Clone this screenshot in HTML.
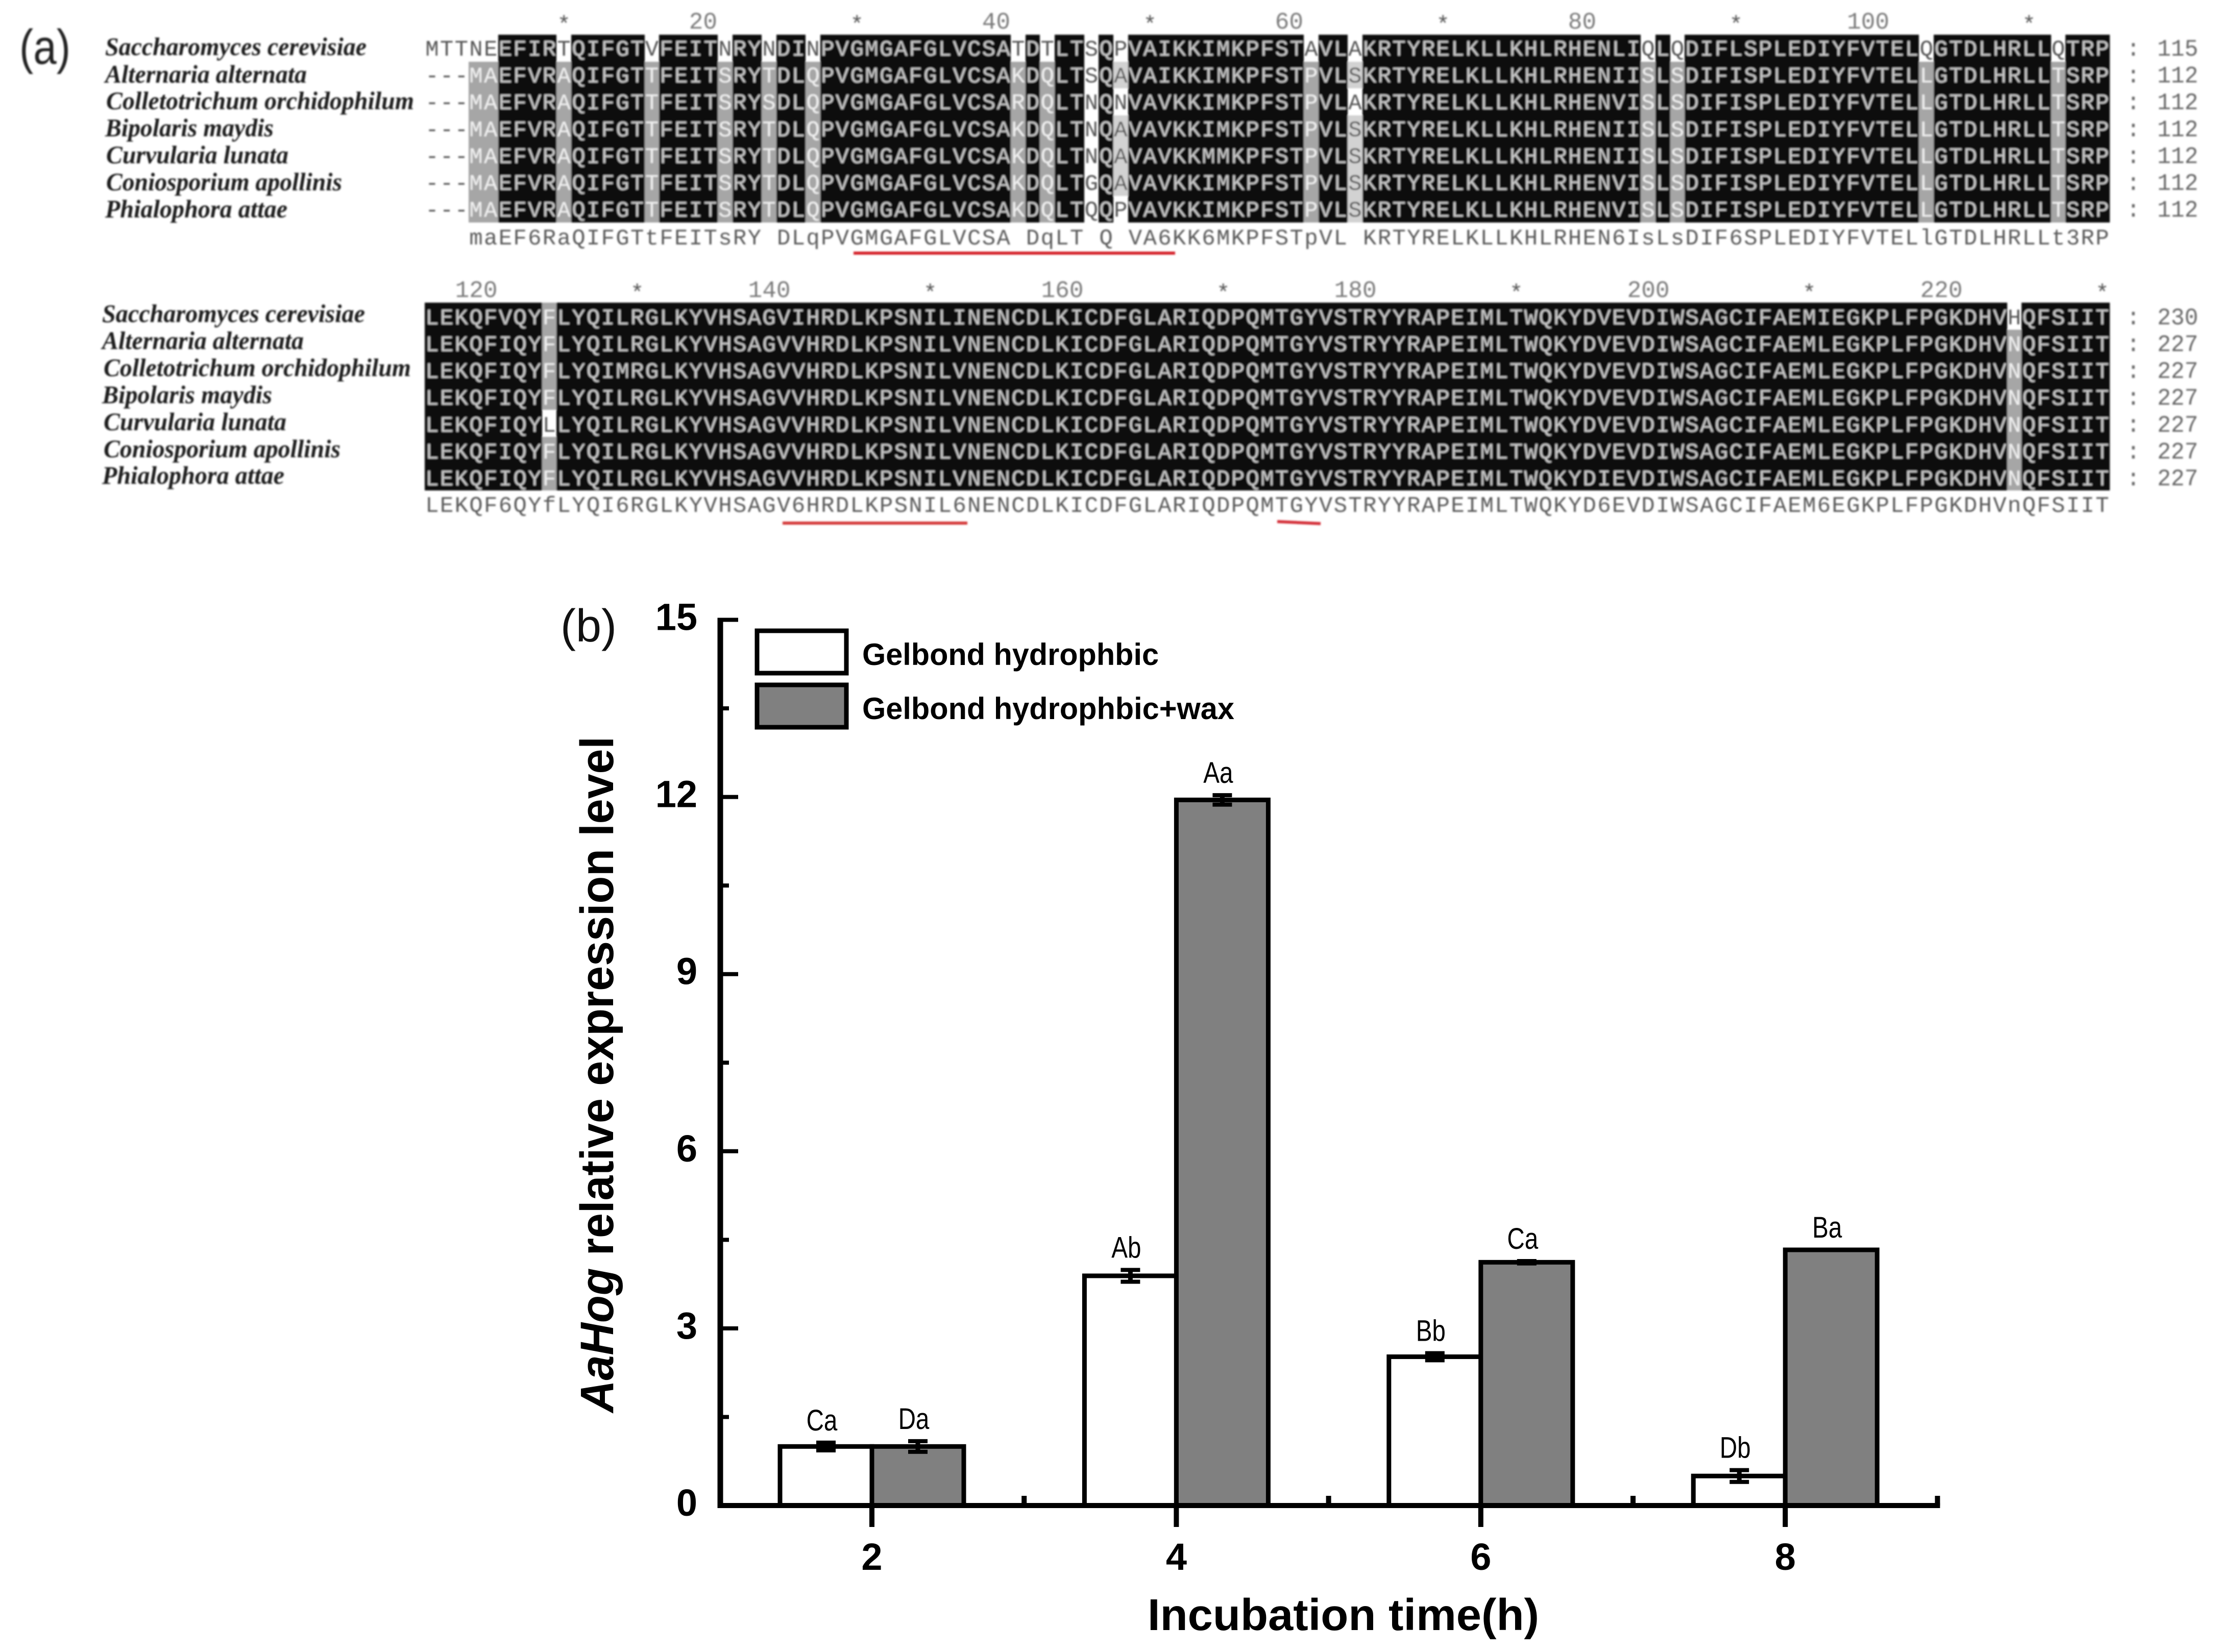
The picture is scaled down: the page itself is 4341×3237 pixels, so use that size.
<!DOCTYPE html>
<html lang="en">
<head>
<meta charset="utf-8">
<title>AaHog alignment and expression figure</title>
<style>
html,body{margin:0;padding:0;background:#fff}
body{width:4341px;height:3237px;overflow:hidden}
svg{display:block}
.sans{font-family:"Liberation Sans",sans-serif}
.mono{font-family:"Liberation Mono",monospace}
.serif{font-family:"Liberation Serif",serif}
</style>
</head>
<body>
<svg id="fig" xmlns="http://www.w3.org/2000/svg" width="4341" height="3237" viewBox="0 0 4341 3237">
  <defs>
    <filter id="soft" x="-2%" y="-2%" width="104%" height="104%"><feGaussianBlur stdDeviation="1.5"/></filter>
  </defs>
  <rect width="4341" height="3237" fill="#fff"/>
  <g id="panelA" filter="url(#soft)">
    <text class="sans" x="38" y="125" font-size="96" textLength="100" lengthAdjust="spacingAndGlyphs" fill="#222">(a)</text>
    <rect x="1672" y="493" width="630" height="6" fill="#d4202c"/>
    <rect x="1533" y="1022" width="362" height="6" fill="#d43a3a"/>
    <line x1="2502" y1="1022" x2="2587" y2="1026" stroke="#d4303a" stroke-width="6"/>
  </g>
  <g id="panelB">
    <text class="sans" x="1098" y="1257" font-size="90" textLength="110" lengthAdjust="spacingAndGlyphs" fill="#111">(b)</text>
    <g>
      <rect x="1483" y="1236" width="175" height="83" fill="#fff" stroke="#000" stroke-width="9"/>
      <text class="sans" x="1689" y="1303" font-size="60" font-weight="700" textLength="581" lengthAdjust="spacingAndGlyphs" fill="#000">Gelbond hydrophbic</text>
      <rect x="1483" y="1342" width="175" height="83" fill="#808080" stroke="#000" stroke-width="9"/>
      <text class="sans" x="1689" y="1409" font-size="60" font-weight="700" textLength="729" lengthAdjust="spacingAndGlyphs" fill="#000">Gelbond hydrophbic+wax</text>
    </g>
    <text class="sans" transform="translate(1201 2768) rotate(-90)" font-size="92" font-weight="700" textLength="1325" lengthAdjust="spacingAndGlyphs" fill="#000"><tspan font-style="italic">AaHog</tspan> relative expression level</text>
    <text class="sans" x="2248" y="3194" font-size="87" font-weight="700" textLength="767" lengthAdjust="spacingAndGlyphs" fill="#000">Incubation time(h)</text>
  </g>
</svg>
<script>
/* ---------- bar chart data ---------- */
const timeCategories = ['2', '4', '6', '8'];
const hydrophobicValues = [1.0, 3.89, 2.52, 0.5];
const waxValues = [1.0, 11.95, 4.12, 4.33];
const hydrophobicErrors = [0.065, 0.1, 0.06, 0.1];
const waxErrors = [0.09, 0.08, 0.02, 0];
const hydrophobicLetters = ['Ca', 'Ab', 'Bb', 'Db'];
const waxLetters = ['Da', 'Aa', 'Ca', 'Ba'];
const yTickLabels = [0, 3, 6, 9, 12, 15];

/* ---------- alignment data ---------- */
const speciesNames = ['Saccharomyces cerevisiae', 'Alternaria alternata', 'Colletotrichum orchidophilum', 'Bipolaris maydis', 'Curvularia lunata', 'Coniosporium apollinis', 'Phialophora attae'];
const block1Rows = [
  'MTTNEEFIRTQIFGTVFEITNRYNDINPVGMGAFGLVCSATDTLTSQPVAIKKIMKPFSTAVLAKRTYRELKLLKHLRHENLIQLQDIFLSPLEDIYFVTELQGTDLHRLLQTRP',
  '---MAEFVRAQIFGTTFEITSRYTDLQPVGMGAFGLVCSAKDQLTSQAVAIKKIMKPFSTPVLSKRTYRELKLLKHLRHENIISLSDIFISPLEDIYFVTELLGTDLHRLLTSRP',
  '---MAEFVRAQIFGTTFEITSRYSDLQPVGMGAFGLVCSARDQLTNQNVAVKKIMKPFSTPVLAKRTYRELKLLKHLRHENVISLSDIFISPLEDIYFVTELLGTDLHRLLTSRP',
  '---MAEFVRAQIFGTTFEITSRYTDLQPVGMGAFGLVCSAKDQLTNQAVAVKKIMKPFSTPVLSKRTYRELKLLKHLRHENIISLSDIFISPLEDIYFVTELLGTDLHRLLTSRP',
  '---MAEFVRAQIFGTTFEITSRYTDLQPVGMGAFGLVCSAKDQLTNQAVAVKKMMKPFSTPVLSKRTYRELKLLKHLRHENIISLSDIFISPLEDIYFVTELLGTDLHRLLTSRP',
  '---MAEFVRAQIFGTTFEITSRYTDLQPVGMGAFGLVCSAKDQLTGQAVAVKKIMKPFSTPVLSKRTYRELKLLKHLRHENVISLSDIFISPLEDIYFVTELLGTDLHRLLTSRP',
  '---MAEFVRAQIFGTTFEITSRYTDLQPVGMGAFGLVCSAKDQLTQQPVAVKKIMKPFSTPVLSKRTYRELKLLKHLRHENVISLSDIFISPLEDIYFVTELLGTDLHRLLTSRP'
];
const block1Consensus = '   maEF6RaQIFGTtFEITsRY DLqPVGMGAFGLVCSA DqLT Q VA6KK6MKPFSTpVL KRTYRELKLLKHLRHEN6IsLsDIF6SPLEDIYFVTELlGTDLHRLLt3RP';
const block1Counts = ['115', '112', '112', '112', '112', '112', '112'];
const block1Ruler = [20, 40, 60, 80, 100];
const block1Stars = [10, 30, 50, 70, 90, 110];
const block2Rows = [
  'LEKQFVQYFLYQILRGLKYVHSAGVIHRDLKPSNILINENCDLKICDFGLARIQDPQMTGYVSTRYYRAPEIMLTWQKYDVEVDIWSAGCIFAEMIEGKPLFPGKDHVHQFSIIT',
  'LEKQFIQYFLYQILRGLKYVHSAGVVHRDLKPSNILVNENCDLKICDFGLARIQDPQMTGYVSTRYYRAPEIMLTWQKYDVEVDIWSAGCIFAEMLEGKPLFPGKDHVNQFSIIT',
  'LEKQFIQYFLYQIMRGLKYVHSAGVVHRDLKPSNILVNENCDLKICDFGLARIQDPQMTGYVSTRYYRAPEIMLTWQKYDVEVDIWSAGCIFAEMLEGKPLFPGKDHVNQFSIIT',
  'LEKQFIQYFLYQILRGLKYVHSAGVVHRDLKPSNILVNENCDLKICDFGLARIQDPQMTGYVSTRYYRAPEIMLTWQKYDVEVDIWSAGCIFAEMLEGKPLFPGKDHVNQFSIIT',
  'LEKQFIQYLLYQILRGLKYVHSAGVVHRDLKPSNILVNENCDLKICDFGLARIQDPQMTGYVSTRYYRAPEIMLTWQKYDVEVDIWSAGCIFAEMLEGKPLFPGKDHVNQFSIIT',
  'LEKQFIQYFLYQILRGLKYVHSAGVVHRDLKPSNILVNENCDLKICDFGLARIQDPQMTGYVSTRYYRAPEIMLTWQKYDVEVDIWSAGCIFAEMLEGKPLFPGKDHVNQFSIIT',
  'LEKQFIQYFLYQILRGLKYVHSAGVVHRDLKPSNILVNENCDLKICDFGLARIQDPQMTGYVSTRYYRAPEIMLTWQKYDIEVDIWSAGCIFAEMLEGKPLFPGKDHVNQFSIIT'
];
const block2Consensus = 'LEKQF6QYfLYQI6RGLKYVHSAGV6HRDLKPSNIL6NENCDLKICDFGLARIQDPQMTGYVSTRYYRAPEIMLTWQKYD6EVDIWSAGCIFAEM6EGKPLFPGKDHVnQFSIIT';
const block2Counts = ['230', '227', '227', '227', '227', '227', '227'];
const block2Ruler = [120, 140, 160, 180, 200, 220];
const block2Stars = [130, 150, 170, 190, 210, 230];

const NS = 'http://www.w3.org/2000/svg';
function make(tag, attrs, parent, txt) {
  const el = document.createElementNS(NS, tag);
  for (const k in attrs) el.setAttribute(k, attrs[k]);
  if (txt !== undefined) el.textContent = txt;
  parent.appendChild(el);
  return el;
}

/* ---------- alignment drawing ---------- */
const panelA = document.getElementById('panelA');
const colPitch = 28.7, colStart = 832;
const colX = c => colStart + c * colPitch;

function shadeOf(rows, consensus, r, c) {
  const cons = consensus[c];
  if (cons !== ' ' && cons === cons.toUpperCase()) return 'black';
  const norm = ch => ch === 'R' ? 'K' : (ch === 'T' ? 'S' : ch);
  const counts = {};
  rows.forEach(row => { const ch = norm(row[c]); if (ch !== '-') counts[ch] = (counts[ch] || 0) + 1; });
  const me = norm(rows[r][c]);
  const best = Math.max(...Object.values(counts));
  if (me === '-' || counts[me] !== best) return 'white';
  if (best >= 6) return 'gray';
  if (best >= 4) return 'light';
  return 'white';
}
const shadeFill = { black: '#080808', gray: '#a6a6a6', light: '#d2d2d2' };
const textFill = { black: '#c8c8c8', gray: '#f0f0f0', light: '#555555', white: '#555555' };

function drawBlock(opts) {
  const g = make('g', {}, panelA);
  
  
  opts.rows.forEach((row, r) => {
    const top = opts.top + r * opts.rowH;
    for (let c = 0; c < row.length; c++) {
      const shade = shadeOf(opts.rows, opts.consensus, r, c);
      if (shade === 'white') continue;
      const x0 = Math.round(colX(c)), x1 = Math.round(colX(c + 1));
      const cell = make('rect', { x: x0, y: Math.round(top), width: x1 - x0, height: Math.round(top + opts.rowH) - Math.round(top), fill: shadeFill[shade] }, g);
      
      
    }
  });
  opts.rows.forEach((row, r) => {
    const base = opts.base + r * opts.rowH;
    const t = make('text', { class: 'mono', y: base, 'font-size': 44 }, g);
    
    
    for (let c = 0; c < row.length; c++) {
      make('tspan', { x: (colX(c) + 1.2).toFixed(1), fill: textFill[shadeOf(opts.rows, opts.consensus, r, c)] }, t, row[c]);
    }
    const box = opts.names[r];
    const nm = make('text', { class: 'serif', x: box[0], y: opts.nameBase[r], 'font-size': 50, 'font-style': 'italic', 'font-weight': 700, fill: '#1c1c1c', textLength: box[1] - box[0], lengthAdjust: 'spacingAndGlyphs' }, g, speciesNames[r]);
    
    
    const colon = make('text', { class: 'mono', x: 4179, y: base, 'font-size': 46, fill: '#666', 'text-anchor': 'middle' }, g, ':');
    
    
    const cnt = make('text', { class: 'mono', x: 4226, y: base, 'font-size': 46, fill: '#666', textLength: 80, lengthAdjust: 'spacingAndGlyphs' }, g, opts.counts[r]);
    
    
  });
  const cons = make('text', { class: 'mono', y: opts.consBase, 'font-size': 44 }, g);
  
  
  for (let c = 0; c < opts.consensus.length; c++) {
    if (opts.consensus[c] === ' ') continue;
    make('tspan', { x: (colX(c) + 1.2).toFixed(1), fill: '#5a5a5a' }, cons, opts.consensus[c]);
  }
  opts.ruler.forEach(n => {
    const t = make('text', { class: 'mono', x: colX(n - opts.offset) - 1, y: opts.rulerBase, 'font-size': 46, fill: '#7a7a7a', 'text-anchor': 'end' }, g, String(n));
    
    
  });
  opts.stars.forEach(n => {
    const t = make('text', { class: 'mono', x: colX(n - opts.offset - 0.5), y: opts.rulerBase + 5, 'font-size': 44, fill: '#555', 'text-anchor': 'middle' }, g, '*');
    
    
  });
}

drawBlock({
  name: 'alignment-block-1', rows: block1Rows, consensus: block1Consensus, counts: block1Counts,
  ruler: block1Ruler, stars: block1Stars, offset: 0,
  top: 68, rowH: 52.6, base: 109, consBase: 479, rulerBase: 56, countX: 4226,
  names: [[206, 718], [206, 601], [208, 811], [206, 536], [208, 565], [208, 670], [206, 563]],
  nameBase: [108, 162, 214, 267, 320, 373, 426]
});
drawBlock({
  name: 'alignment-block-2', rows: block2Rows, consensus: block2Consensus, counts: block2Counts,
  ruler: block2Ruler, stars: block2Stars, offset: 115,
  top: 593, rowH: 52.6, base: 635.4, consBase: 1003, rulerBase: 582, countX: 4226,
  names: [[200, 715], [200, 595], [203, 805], [200, 533], [203, 561], [203, 667], [200, 557]],
  nameBase: [631, 684, 737, 790, 843, 896, 948]
});

/* ---------- chart drawing ---------- */
const panelB = document.getElementById('panelB');
const baseY = 2950, unitPx = 115.7, axisX = 1411;
const firstCatX = 1708, catPitch = 596.4, barW = 180;
const yScale = v => baseY - v * unitPx;
const xScale = i => firstCatX + i * catPitch;

function drawBar(i, value, fill, left, seriesName) {
  const r = make('rect', { x: left, y: yScale(value), width: barW, height: baseY - yScale(value), fill: fill, stroke: '#000', 'stroke-width': 9 }, panelB);
  
  
}
function drawError(cx, value, err, seriesName) {
  const g = make('g', { stroke: '#000', 'stroke-width': 8 }, panelB);
  
  
  make('line', { x1: cx, x2: cx, y1: yScale(value + err), y2: yScale(value - err), 'stroke-width': 9 }, g);
  make('line', { x1: cx - 19, x2: cx + 19, y1: yScale(value + err), y2: yScale(value + err) }, g);
  make('line', { x1: cx - 19, x2: cx + 19, y1: yScale(value - err), y2: yScale(value - err) }, g);
}
function drawLetter(cx, value, err, label) {
  const t = make('text', { class: 'sans', x: cx - 8, y: yScale(value + err) - 24, 'font-size': 58, 'text-anchor': 'middle', fill: '#000' }, panelB, label);
  
  
  t.setAttribute('textLength', (t.getComputedTextLength() * 0.82).toFixed(1));
  t.setAttribute('lengthAdjust', 'spacingAndGlyphs');
}

timeCategories.forEach((cat, i) => {
  const cx = xScale(i);
  drawBar(i, hydrophobicValues[i], '#fff', cx - barW, 'hydrophobic');
  drawBar(i, waxValues[i], '#808080', cx, 'wax');
  drawError(cx - barW / 2, hydrophobicValues[i], hydrophobicErrors[i], 'hydrophobic');
  drawError(cx + barW / 2, waxValues[i], waxErrors[i], 'wax');
  drawLetter(cx - barW / 2, hydrophobicValues[i], hydrophobicErrors[i], hydrophobicLetters[i]);
  drawLetter(cx + barW / 2, waxValues[i], waxErrors[i], waxLetters[i]);
});

const yAxisLine = make('line', { x1: axisX, x2: axisX, y1: yScale(15) - 4, y2: baseY + 5, stroke: '#000', 'stroke-width': 11 }, panelB);


const xAxisLine = make('line', { x1: axisX - 5, x2: xScale(3.5) + 5, y1: baseY, y2: baseY, stroke: '#000', 'stroke-width': 10 }, panelB);



yTickLabels.forEach((v, i) => {
  const tk = make('line', { x1: axisX, x2: axisX + 35, y1: yScale(v), y2: yScale(v), stroke: '#000', 'stroke-width': 8 }, panelB);
  
  
  const lb = make('text', { class: 'sans', x: 1366, y: yScale(v) + 20, 'font-size': 74, 'font-weight': 700, 'text-anchor': 'end', fill: '#000' }, panelB, String(v));
  
  
  if (i < yTickLabels.length - 1) {
    const mid = (v + yTickLabels[i + 1]) / 2;
    const mn = make('line', { x1: axisX, x2: axisX + 17, y1: yScale(mid), y2: yScale(mid), stroke: '#000', 'stroke-width': 8 }, panelB);
    
    
  }
});

timeCategories.forEach((cat, i) => {
  const cx = xScale(i);
  const tk = make('line', { x1: cx, x2: cx, y1: baseY, y2: baseY + 42, stroke: '#000', 'stroke-width': 10 }, panelB);
  
  
  const mn = make('line', { x1: xScale(i + 0.5), x2: xScale(i + 0.5), y1: baseY, y2: baseY - 19, stroke: '#000', 'stroke-width': 10 }, panelB);
  
  
  const lb = make('text', { class: 'sans', x: cx, y: 3076, 'font-size': 74, 'font-weight': 700, 'text-anchor': 'middle', fill: '#000' }, panelB, cat);
  
  
});
</script>
</body>
</html>
